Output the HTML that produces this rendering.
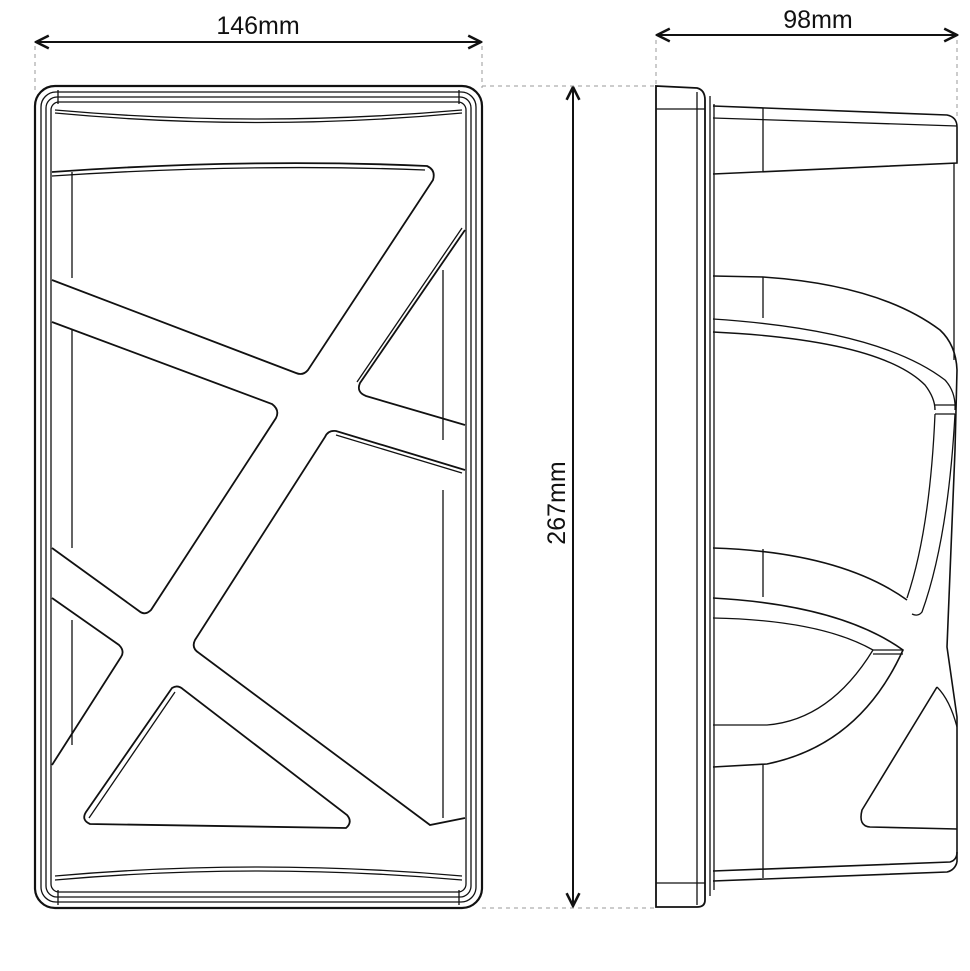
<!DOCTYPE html>
<html><head><meta charset="utf-8"><style>
html,body{margin:0;padding:0;background:#fff}
svg{display:block}
text{font-family:"Liberation Sans",sans-serif;font-size:25px;fill:#111}
</style></head><body>
<svg width="970" height="971" viewBox="0 0 970 971" xmlns="http://www.w3.org/2000/svg">
<defs>
<marker id="a" viewBox="0 0 10 10" refX="9" refY="5" markerWidth="8" markerHeight="8" orient="auto-start-reverse"><path d="M1,1 L9,5 L1,9" fill="none" stroke="#111" stroke-width="1.6"/></marker>
</defs>
<g stroke="#111" fill="none">
<!-- dimensions -->
<line x1="36" y1="42" x2="481" y2="42" stroke-width="2" marker-start="url(#a)" marker-end="url(#a)"/>
<line x1="657" y1="35" x2="957" y2="35" stroke-width="2" marker-start="url(#a)" marker-end="url(#a)"/>
<line x1="573" y1="87" x2="573" y2="906" stroke-width="2" marker-start="url(#a)" marker-end="url(#a)"/>
<g stroke="#999" stroke-dasharray="4,4" stroke-width="1">
<line x1="35" y1="46" x2="35" y2="90"/><line x1="482" y1="46" x2="482" y2="88"/>
<line x1="482" y1="86" x2="656" y2="86"/><line x1="482" y1="908" x2="656" y2="908"/>
<line x1="656" y1="40" x2="656" y2="86"/><line x1="957" y1="40" x2="957" y2="118"/>
</g>
<!-- front view -->
<g stroke-width="1.3">
<rect x="35" y="86" width="447" height="822" rx="20" stroke-width="2.2"/>
<rect x="41" y="92" width="435" height="810" rx="15"/>
<rect x="46" y="97" width="425" height="800" rx="11"/>
<rect x="51" y="102" width="415" height="790" rx="8"/>
<line x1="58" y1="90" x2="58" y2="104"/><line x1="459" y1="90" x2="459" y2="104"/>
<line x1="58" y1="890" x2="58" y2="905"/><line x1="459" y1="890" x2="459" y2="905"/>
<path d="M55,110 Q258,128 462,110"/>
<path d="M55,113 Q258,132 462,113"/>
<path d="M55,880 Q258,862 462,880"/>
<path d="M55,876 Q258,858 462,876"/>
<line x1="72" y1="172" x2="72" y2="278"/><line x1="72" y1="330" x2="72" y2="548"/><line x1="72" y1="620" x2="72" y2="745"/>
<line x1="443" y1="270" x2="443" y2="440"/><line x1="443" y1="490" x2="443" y2="818"/>
<path stroke-width="1.8" d="M52,172 Q250,158 427,166 Q436,170 433,180 L308,370 Q303,376 296,373 L52,280"/>
<path d="M52,176 Q250,163 425,170"/>
<path stroke-width="1.8" d="M52,322 L272,404 Q280,410 276,418 L151,610 Q145,616 139,611 L52,548"/>
<path stroke-width="1.8" d="M465,230 L360,383 Q356,392 366,396 L465,425"/>
<path d="M462,228 L357,382"/>
<path stroke-width="1.8" d="M465,470 L336,431 Q328,430 325,437 L195,640 Q191,648 199,653 L430,825 L465,818"/>
<path d="M462,473 L336,435"/>
<path stroke-width="1.8" d="M52,598 L119,645 Q125,651 121,657 L52,765"/>
<path stroke-width="1.8" d="M172,688 Q178,684 184,690 L347,815 Q353,822 346,828 Q200,826 90,824 Q81,820 86,812 Z"/>
<path d="M175,692 L89,818"/>
</g>
<!-- side view -->
<g stroke-width="1.3">
<path stroke-width="1.8" d="M656,86 L697,88 Q705,90 705,100 L705,900 Q705,907 697,907 L656,907 Z"/>
<line x1="656" y1="109" x2="705" y2="109"/><line x1="656" y1="883" x2="705" y2="883"/>
<line x1="697" y1="92" x2="697" y2="905"/>
<line x1="710" y1="96" x2="710" y2="896"/><line x1="714" y1="104" x2="714" y2="890"/>
<path stroke-width="1.6" d="M713,106 L947,115 Q957,117 957,127 L957,163 L713,174"/>
<line x1="713" y1="118" x2="957" y2="126"/>
<line x1="763" y1="108" x2="763" y2="172"/>
<line x1="954" y1="163" x2="954" y2="360"/>
<path stroke-width="1.6" d="M713,276 L763,277 Q880,285 940,330 Q956,345 957,370 L955,450 L947,647 L957,717 L957,862"/>
<line x1="763" y1="277" x2="763" y2="318"/>
<path d="M713,319 Q880,330 945,380 Q956,392 955,410"/>
<path stroke-width="1.4" d="M713,332 Q880,340 925,385 Q935,398 935,410"/>
<line x1="935" y1="405" x2="955" y2="405"/><line x1="935" y1="414" x2="955" y2="414"/>
<path d="M935,414 Q930,530 907,598"/>
<path d="M955,414 Q948,540 922,612 Q918,617 912,614"/>
<path stroke-width="1.6" d="M713,548 Q840,552 907,600"/>
<line x1="763" y1="549" x2="763" y2="597"/>
<path stroke-width="1.6" d="M713,598 Q840,605 903,650 Q860,745 767,764 L713,767"/>
<path d="M713,618 Q820,620 873,650 Q830,720 767,725 L713,725"/>
<line x1="873" y1="650" x2="903" y2="650"/><line x1="873" y1="654" x2="903" y2="654"/>
<line x1="763" y1="765" x2="763" y2="878"/>
<path stroke-width="1.6" d="M937,687 Q905,740 862,810 Q858,826 870,827 L957,829"/>
<path d="M937,687 Q950,700 957,727"/>
<path stroke-width="1.6" d="M713,871 L950,862 Q957,860 957,852"/>
<path stroke-width="1.6" d="M713,881 L947,872 Q955,870 957,862"/>
</g>
</g>
<text x="258" y="34" text-anchor="middle">146mm</text>
<text x="818" y="28" text-anchor="middle">98mm</text>
<text transform="translate(565,503) rotate(-90)" text-anchor="middle">267mm</text>
</svg>
</body></html>
